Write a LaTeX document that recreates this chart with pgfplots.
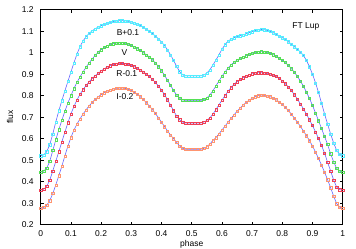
\documentclass[border=0pt]{standalone}
\usepackage{fontspec}
\setmainfont{Liberation Sans}
\usepackage{pgfplots}
\usepackage{pgfplotstable}
\pgfplotsset{compat=1.18}
\definecolor{cB}{HTML}{55EEFF}
\definecolor{cV}{HTML}{55E055}
\definecolor{cR}{HTML}{F04055}
\definecolor{cI}{HTML}{FF9570}
\definecolor{fit}{HTML}{6666FF}
\pgfplotstableread{
p B V R I
0.00 0.521 0.445 0.361 0.276
0.01 0.525 0.449 0.365 0.280
0.02 0.540 0.463 0.379 0.290
0.03 0.572 0.495 0.407 0.312
0.04 0.622 0.545 0.450 0.345
0.05 0.678 0.595 0.495 0.385
0.06 0.730 0.642 0.540 0.428
0.07 0.777 0.686 0.585 0.472
0.08 0.822 0.727 0.630 0.520
0.09 0.866 0.766 0.674 0.565
0.10 0.910 0.800 0.715 0.605
0.11 0.953 0.833 0.750 0.640
0.12 0.993 0.862 0.780 0.668
0.13 1.028 0.887 0.806 0.692
0.14 1.054 0.910 0.828 0.714
0.15 1.074 0.932 0.847 0.734
0.16 1.089 0.952 0.864 0.752
0.17 1.101 0.970 0.879 0.768
0.18 1.111 0.987 0.892 0.782
0.19 1.119 1.002 0.904 0.794
0.20 1.126 1.014 0.915 0.805
0.21 1.132 1.024 0.925 0.814
0.22 1.137 1.032 0.933 0.821
0.23 1.141 1.038 0.940 0.827
0.24 1.145 1.042 0.945 0.831
0.25 1.147 1.045 0.948 0.834
0.26 1.149 1.046 0.950 0.836
0.27 1.149 1.046 0.950 0.836
0.28 1.148 1.044 0.948 0.834
0.29 1.146 1.040 0.945 0.830
0.30 1.143 1.034 0.941 0.824
0.31 1.139 1.027 0.935 0.816
0.32 1.134 1.019 0.928 0.806
0.33 1.127 1.010 0.920 0.795
0.34 1.119 1.000 0.911 0.782
0.35 1.110 0.990 0.900 0.767
0.36 1.100 0.980 0.889 0.752
0.37 1.089 0.967 0.876 0.735
0.38 1.077 0.952 0.861 0.717
0.39 1.064 0.935 0.845 0.697
0.40 1.050 0.916 0.826 0.677
0.41 1.033 0.895 0.805 0.656
0.42 1.013 0.872 0.781 0.636
0.43 0.990 0.848 0.756 0.617
0.44 0.964 0.824 0.730 0.600
0.45 0.937 0.803 0.706 0.583
0.46 0.912 0.788 0.688 0.566
0.47 0.897 0.780 0.677 0.555
0.48 0.892 0.778 0.673 0.551
0.49 0.892 0.778 0.673 0.551
0.50 0.892 0.778 0.673 0.551
0.51 0.892 0.778 0.673 0.551
0.52 0.892 0.778 0.673 0.551
0.53 0.892 0.778 0.673 0.551
0.54 0.896 0.782 0.677 0.555
0.55 0.905 0.790 0.685 0.563
0.56 0.920 0.803 0.697 0.575
0.57 0.942 0.822 0.714 0.591
0.58 0.965 0.845 0.735 0.605
0.59 0.990 0.868 0.757 0.622
0.60 1.015 0.890 0.779 0.640
0.61 1.037 0.910 0.800 0.658
0.62 1.053 0.928 0.820 0.676
0.63 1.063 0.943 0.837 0.694
0.64 1.070 0.955 0.852 0.711
0.65 1.075 0.965 0.865 0.727
0.66 1.079 0.973 0.875 0.742
0.67 1.083 0.980 0.884 0.756
0.68 1.088 0.986 0.891 0.768
0.69 1.093 0.992 0.897 0.779
0.70 1.098 0.997 0.902 0.788
0.71 1.103 1.001 0.905 0.795
0.72 1.106 1.004 0.907 0.800
0.73 1.108 1.005 0.907 0.803
0.74 1.107 1.004 0.906 0.802
0.75 1.104 1.001 0.904 0.799
0.76 1.099 0.997 0.901 0.795
0.77 1.093 0.991 0.896 0.789
0.78 1.086 0.984 0.889 0.781
0.79 1.078 0.975 0.880 0.771
0.80 1.070 0.965 0.869 0.759
0.81 1.061 0.954 0.856 0.746
0.82 1.051 0.941 0.841 0.731
0.83 1.040 0.926 0.824 0.714
0.84 1.028 0.909 0.805 0.696
0.85 1.016 0.890 0.784 0.677
0.86 1.003 0.868 0.762 0.657
0.87 0.987 0.844 0.739 0.636
0.88 0.964 0.817 0.714 0.614
0.89 0.935 0.787 0.688 0.591
0.90 0.900 0.755 0.661 0.566
0.91 0.860 0.720 0.632 0.538
0.92 0.815 0.684 0.601 0.508
0.93 0.765 0.647 0.568 0.477
0.94 0.715 0.610 0.533 0.444
0.95 0.668 0.573 0.490 0.409
0.96 0.622 0.530 0.450 0.372
0.97 0.580 0.492 0.408 0.333
0.98 0.546 0.462 0.375 0.298
0.99 0.527 0.449 0.363 0.281
1.00 0.521 0.445 0.361 0.276
}\lc
\begin{document}
\begin{tikzpicture}
\begin{axis}[
  scale only axis, width=302bp, height=215bp,
  xmin=0, xmax=1, ymin=0.2, ymax=1.2,
  xtick={0,0.1,0.2,0.3,0.4,0.5,0.6,0.7,0.8,0.9,1},
  ytick={0.2,0.3,0.4,0.5,0.6,0.7,0.8,0.9,1,1.1,1.2},
  tick align=inside, major tick length=3bp,
  tick style={black, line width=0.5pt},
  axis line style={black, line width=0.6pt},
  font=\fontsize{8.5}{10}\selectfont,
  /pgf/number format/assume math mode=true,
  yticklabel style={xshift=-3.6bp},
  xticklabel style={yshift=-2.5bp},
  xlabel={phase}, ylabel={flux},
  xlabel style={at={(axis description cs:0.5,0)}, anchor=center, yshift=-19.3bp},
  ylabel style={at={(axis description cs:0,0.5)}, anchor=center, yshift=30.7bp},
  mark size=1.1bp,
]
\addplot[only marks, mark=square, cB, mark options={line width=0.4pt}] table[x=p,y=B]{\lc};
\addplot[only marks, mark=square, cV, mark options={line width=0.4pt}] table[x=p,y=V]{\lc};
\addplot[only marks, mark=square, cR, mark options={line width=0.4pt}] table[x=p,y=R]{\lc};
\addplot[only marks, mark=square, cI, mark options={line width=0.4pt}] table[x=p,y=I]{\lc};
\addplot[fit, line width=0.6pt, no marks] table[x=p,y=B]{\lc};
\addplot[fit, line width=0.6pt, no marks] table[x=p,y=V]{\lc};
\addplot[fit, line width=0.6pt, no marks] table[x=p,y=R]{\lc};
\addplot[fit, line width=0.6pt, no marks] table[x=p,y=I]{\lc};
\node at (axis cs:0.289,1.092) {B+0.1};
\node at (axis cs:0.277,1.002) {V};
\node at (axis cs:0.285,0.904) {R-0.1};
\node at (axis cs:0.279,0.795) {I-0.2};
\node at (axis cs:0.878,1.124) {FT Lup};
\coordinate (ll) at (rel axis cs:0,0);
\coordinate (ur) at (rel axis cs:1,1);
\end{axis}
\pgfresetboundingbox
\path[use as bounding box] ([shift={(-40.7bp,-24.3bp)}]ll) rectangle ([shift={(13.3bp,9.7bp)}]ur);
\end{tikzpicture}
\end{document}
